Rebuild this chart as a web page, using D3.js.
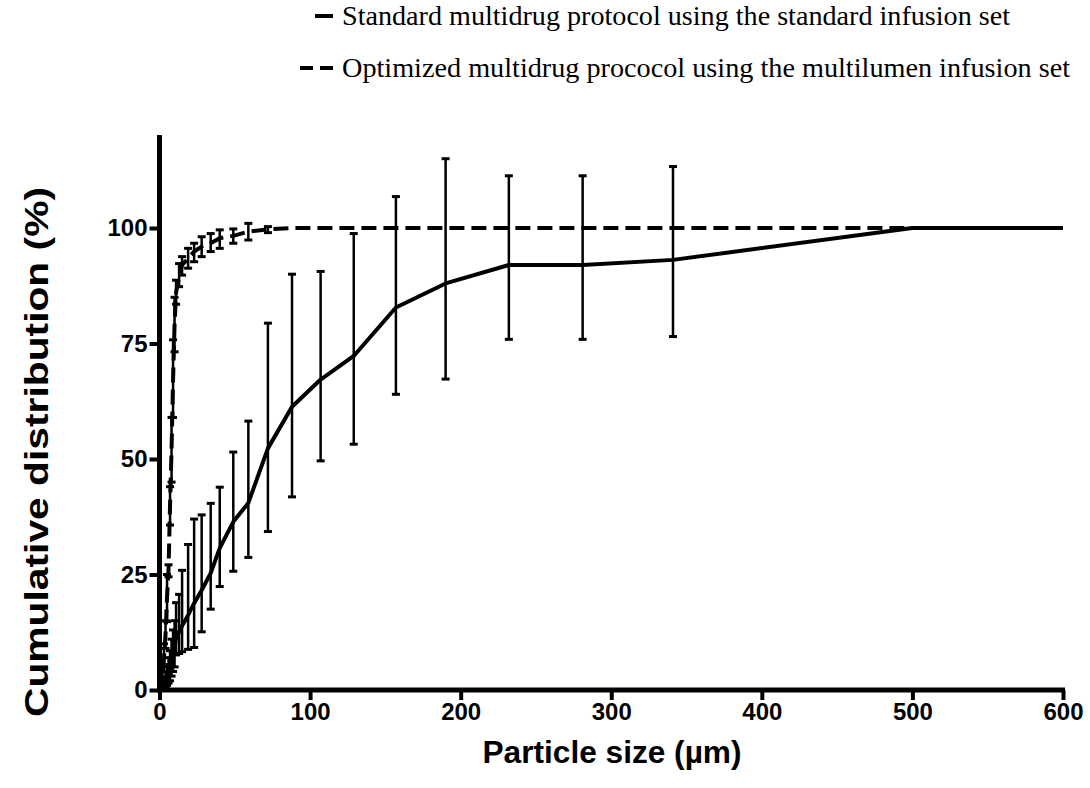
<!DOCTYPE html>
<html>
<head>
<meta charset="utf-8">
<script src="https://cdn.jsdelivr.net/npm/d3@7"></script>
<style>
  body { margin: 0; background: #fff; }
  text { fill: #000; }
</style>
</head>
<body>
<svg id="chart" width="1090" height="788"></svg>
<script>
// particle size bins (µm)
var sizes = [0, 2, 3, 4, 5, 6, 7, 8, 9, 10, 11, 13, 15, 19, 23, 28, 34, 40, 49, 59, 72, 88, 107, 129, 157, 190, 232, 281, 341, 500, 600];

// standard protocol: mean, lower and upper bar ends (%)
var stdMean = [0, 0.5, 1, 2, 3, 4, 5, 6.5, 8, 9.5, 11.2, 12.6, 13.9, 16.2, 18.8, 21.6, 25.3, 30.7, 36.4, 40.5, 52.3, 61.3, 67.2, 72.3, 82.8, 88, 92, 92, 93.1, 100, 100];
var stdLow  = [0, 0, 0, 0.5, 1, 1.5, 2, 3, 4, 5, 7.6, 7.9, 8.3, 8.8, 9.2, 12.6, 17.5, 22.4, 25.7, 28.7, 34.3, 41.8, 49.6, 53.2, 64, 67.3, 75.9, 75.9, 76.5, 100, 100];
var stdHigh = [0, 1.5, 2.5, 4, 5.5, 7, 8.5, 11, 13, 15, 18.9, 20.7, 25.9, 31.5, 37, 37.9, 40.4, 43.9, 51.5, 58.2, 79.4, 90, 90.6, 98.8, 106.8, 115, 111.3, 111.3, 113.3, 100, 100];

// optimized protocol
var optMean = [0, 3, 7, 12, 20, 26, 40, 52, 67, 79, 86, 89.5, 92, 93.4, 94.9, 96, 96.7, 97.8, 98.3, 99.2, 99.7, 100, 100, 100, 100, 100, 100, 100, 100, 100, 100];
var optLow  = [0, 1, 4, 9, 14.8, 24.5, 35.7, 45, 59, 73.2, 83.5, 87.3, 89.8, 91.3, 92.7, 93.8, 94.9, 95.6, 96.7, 97.4, 99, 100, 100, 100, 100, 100, 100, 100, 100, 100, 100];
var optHigh = [0, 5, 10, 15, 25, 27.1, 44, 59, 75.8, 85, 88.7, 92.3, 93.8, 95.6, 96.7, 98.1, 98.8, 99.6, 99.8, 101, 100.3, 100, 100, 100, 100, 100, 100, 100, 100, 100, 100];

var xTicks = [0, 100, 200, 300, 400, 500, 600];
var yTicks = [0, 25, 50, 75, 100];
var legendLabels = ['Standard multidrug protocol using the standard infusion set',
                    'Optimized multidrug prococol using the multilumen infusion set'];

var svg = d3.select('#chart');
var x = d3.scaleLinear().domain([0, 600]).range([159.5, 1063]);
var y = d3.scaleLinear().domain([0, 120]).range([690, 135.6]);

function series(mean, low, high) {
  return sizes.map(function(s, i) { return {x: s, m: mean[i], lo: low[i], hi: high[i]}; });
}
var stdData = series(stdMean, stdLow, stdHigh);
var optData = series(optMean, optLow, optHigh);

var line = d3.line().x(function(d){return x(d.x);}).y(function(d){return y(d.m);});

svg.append('path').datum(stdData).attr('d', line)
   .style('fill', 'none').style('stroke', '#000').style('stroke-width', 4).style('stroke-linejoin', 'round');
svg.append('path').datum(optData).attr('d', line)
   .style('fill', 'none').style('stroke', '#000').style('stroke-width', 4).style('stroke-dasharray', '15, 7');

function errorBars(data, cls) {
  var d0 = data.filter(function(d){return d.hi > d.lo;});
  var g = svg.append('g').attr('class', cls);
  g.selectAll('.v').data(d0).enter().append('line')
   .attr('x1', function(d){return x(d.x);}).attr('x2', function(d){return x(d.x);})
   .attr('y1', function(d){return y(d.lo);}).attr('y2', function(d){return y(d.hi);})
   .style('stroke', '#000').style('stroke-width', 2.5);
  ['lo', 'hi'].forEach(function(k) {
    g.selectAll('.c' + k).data(d0).enter().append('line')
     .attr('x1', function(d){return x(d.x) - 4;}).attr('x2', function(d){return x(d.x) + 4;})
     .attr('y1', function(d){return y(d[k]);}).attr('y2', function(d){return y(d[k]);})
     .style('stroke', '#000').style('stroke-width', 3);
  });
}
errorBars(stdData, 'stdbars');
errorBars(optData, 'optbars');

// axes
var xAxis = svg.append('g').attr('transform', 'translate(0,690)')
   .call(d3.axisBottom(x).tickValues(xTicks).tickSize(10).tickPadding(3));
var yAxis = svg.append('g').attr('transform', 'translate(159.5,0)')
   .call(d3.axisLeft(y).tickValues(yTicks).tickSize(10).tickPadding(2));
[xAxis, yAxis].forEach(function(a) {
  a.select('.domain').remove();
  a.selectAll('.tick line').style('stroke', '#000').style('stroke-width', 4);
  a.selectAll('.tick text').style('font-family', 'Liberation Sans, Arial, sans-serif')
   .style('font-weight', 'bold').style('font-size', '24px').style('fill', '#000');
});
svg.append('line').attr('x1', 159.5).attr('x2', 159.5).attr('y1', 135).attr('y2', 692.5)
   .style('stroke', '#000').style('stroke-width', 5);
svg.append('line').attr('x1', 157).attr('x2', 1065).attr('y1', 690).attr('y2', 690)
   .style('stroke', '#000').style('stroke-width', 5);

// axis titles
svg.append('text').attr('x', 612).attr('y', 763).attr('text-anchor', 'middle')
   .attr('textLength', 259).attr('lengthAdjust', 'spacingAndGlyphs')
   .style('font-family', 'Liberation Sans, Arial, sans-serif').style('font-weight', 'bold')
   .style('font-size', '32px').text('Particle size (µm)');
svg.append('text').attr('transform', 'translate(48,452) rotate(-90)').attr('text-anchor', 'middle')
   .attr('textLength', 530).attr('lengthAdjust', 'spacingAndGlyphs')
   .style('font-family', 'Liberation Sans, Arial, sans-serif').style('font-weight', 'bold')
   .style('font-size', '34px').text('Cumulative distribution (%)');

// legend
var legendY = [16, 68];
var legendWidth = [668, 728];
svg.selectAll('.legline').data(legendLabels).enter().append('line')
   .attr('x1', function(d, i){return i ? 300 : 315;}).attr('x2', 333)
   .attr('y1', function(d, i){return legendY[i];}).attr('y2', function(d, i){return legendY[i];})
   .style('stroke', '#000').style('stroke-width', 4)
   .style('stroke-dasharray', function(d, i){return i ? '13, 7' : null;});
svg.selectAll('.legtext').data(legendLabels).enter().append('text')
   .attr('x', 342).attr('y', function(d, i){return legendY[i] + 9;})
   .attr('textLength', function(d, i){return legendWidth[i];}).attr('lengthAdjust', 'spacingAndGlyphs')
   .style('font-family', 'Liberation Serif, Times New Roman, serif').style('font-size', '27px')
   .text(function(d){return d;});
</script>
</body>
</html>
